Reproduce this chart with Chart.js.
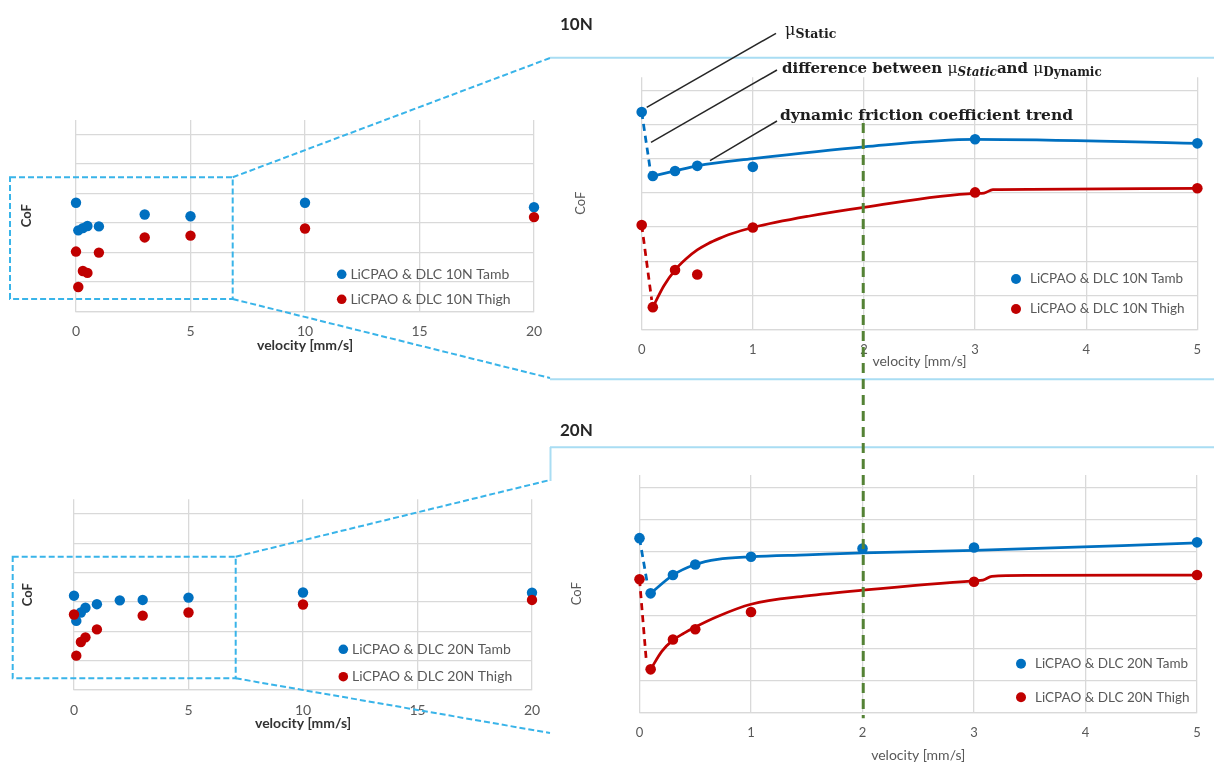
<!DOCTYPE html>
<html>
<head>
<meta charset="utf-8">
<script src="https://cdn.jsdelivr.net/npm/chart.js@4.4.1/dist/chart.umd.min.js"></script>
<style>
  html, body { margin: 0; padding: 0; background: #fff; }
  #stage { position: relative; width: 1214px; height: 764px; overflow: hidden; background: #fff; }
  #stage canvas { position: absolute; }
  #overlay { position: absolute; left: 0; top: 0; pointer-events: none; }
</style>
</head>
<body>
<div id="stage">
  <canvas id="all10" width="560" height="260" style="left:0;top:100px;"></canvas>
  <canvas id="all20" width="560" height="270" style="left:0;top:480px;"></canvas>
  <canvas id="low10" width="654" height="320" style="left:560px;top:60px;"></canvas>
  <canvas id="low20" width="654" height="314" style="left:560px;top:450px;"></canvas>

  <svg id="overlay" width="1214" height="764" xmlns="http://www.w3.org/2000/svg">
    <!-- zoom frames on the overview plots and their connectors -->
    <g fill="none" stroke="#39B4E9" stroke-width="2" stroke-dasharray="6 3">
      <rect x="10" y="177.3" width="222.7" height="121.7"/>
      <line x1="232.7" y1="177.3" x2="550" y2="58"/>
      <line x1="232.7" y1="299" x2="550" y2="378"/>
      <rect x="12.7" y="556.7" width="223" height="121.6"/>
      <line x1="235.7" y1="556.7" x2="550" y2="480"/>
      <line x1="235.7" y1="678.3" x2="550" y2="733"/>
    </g>
    <!-- panel rules of the low-velocity plots -->
    <g stroke="#A9DDF3" stroke-width="2">
      <line x1="550" y1="57.7" x2="1214" y2="57.7"/>
      <line x1="550" y1="379.3" x2="1214" y2="379.3"/>
      <line x1="550" y1="447.3" x2="1214" y2="447.3"/>
      <line x1="550.5" y1="447" x2="550.5" y2="481"/>
    </g>
    <!-- leader lines of the callouts -->
    <g stroke="#262626" stroke-width="1.5">
      <line x1="646.7" y1="107.3" x2="776" y2="33.3"/>
      <line x1="651" y1="142.3" x2="777" y2="70"/>
      <line x1="710" y1="160.7" x2="777" y2="121"/>
    </g>
    <text x="560" y="29.5" font-family="Lato, sans-serif" font-weight="bold" font-size="17" fill="#262626">10N</text>
    <text x="560" y="436" font-family="Lato, sans-serif" font-weight="bold" font-size="17" fill="#262626">20N</text>
    <g font-family="'DejaVu Serif', 'Liberation Serif', serif" fill="#1e1e1e">
      <text x="785" y="35" font-size="16">μ<tspan font-weight="bold" font-size="12.5" dy="3">Static</tspan></text>
      <text x="782" y="73" font-size="15" font-weight="bold">difference between <tspan font-weight="normal" font-size="15.5">μ</tspan><tspan font-size="12" font-style="italic" dy="3">Static</tspan><tspan dy="-3">and </tspan><tspan font-weight="normal" font-size="15.5">μ</tspan><tspan font-size="12" dy="3">Dynamic</tspan></text>
      <text x="780" y="120" font-size="15.5" font-weight="bold">dynamic friction coefficient trend</text>
    </g>
    <line id="vmark" stroke="#548235" stroke-width="3" stroke-dasharray="10 6"/>
  </svg>
</div>

<script>
// ---- measured coefficient of friction, LiCPAO grease on DLC ----
// 10 N load
const vel10Tamb  = [0, 0.1, 0.3, 0.5, 1, 3, 5, 10, 20];
const cof10Tamb  = [0.0738, 0.0550, 0.0565, 0.0580, 0.0577, 0.0658, 0.0646, 0.0738, 0.0707];
const vel10Thigh = [0, 0.1, 0.3, 0.5, 1, 3, 5, 10, 20];
const cof10Thigh = [0.0406, 0.0165, 0.0274, 0.0261, 0.0399, 0.0502, 0.0514, 0.0563, 0.0640];
// 20 N load
const vel20Tamb  = [0, 0.1, 0.3, 0.5, 1, 2, 3, 5, 10, 20];
const cof20Tamb  = [0.0643, 0.0471, 0.0528, 0.0561, 0.0585, 0.0611, 0.0614, 0.0630, 0.0665, 0.0663];
const vel20Thigh = [0, 0.1, 0.3, 0.5, 1, 3, 5, 10, 20];
const cof20Thigh = [0.0515, 0.0234, 0.0327, 0.0359, 0.0413, 0.0507, 0.0528, 0.0583, 0.0614];

// static-to-dynamic drop (dashed) and dynamic trend (solid) on the low-velocity plots
const drop10TambX  = [0, 0.08];  const drop10TambY  = [0.0738, 0.0562];
const drop10ThighX = [0, 0.09];  const drop10ThighY = [0.0406, 0.0186];
const drop20TambX  = [0, 0.07];  const drop20TambY  = [0.0643, 0.0502];
const drop20ThighX = [0, 0.06];  const drop20ThighY = [0.0515, 0.0265];

const trend10TambX  = [0.1, 0.3, 0.5, 1, 2, 3, 5];
const trend10TambY  = [0.0550, 0.0565, 0.0580, 0.0601, 0.0636, 0.0658, 0.0646];
const trend10ThighX = [0.1, 0.2, 0.3, 0.4, 0.5, 0.6, 0.7, 0.8, 1, 1.5, 2, 3, 3.08, 3.16, 3.5, 5];
const trend10ThighY = [0.0165, 0.0228, 0.0274, 0.0307, 0.0333, 0.0352, 0.0367, 0.0380, 0.0399,
                       0.0432, 0.0458, 0.0499, 0.0500, 0.0510, 0.0511, 0.0514];
const trend20TambX  = [0.1, 0.3, 0.5, 0.7, 1, 1.5, 2, 3, 5];
const trend20TambY  = [0.0471, 0.0528, 0.0561, 0.0577, 0.0585, 0.0591, 0.0597, 0.0605, 0.0628];
const trend20ThighX = [0.1, 0.2, 0.3, 0.4, 0.5, 0.7, 1, 1.5, 2, 3, 3.08, 3.16, 3.5, 5];
const trend20ThighY = [0.0234, 0.0290, 0.0325, 0.0347, 0.0366, 0.0399, 0.0437, 0.0463, 0.0481,
                       0.0510, 0.0512, 0.0524, 0.0527, 0.0528];

// axis ticks
const overviewTicks = [0, 5, 10, 15, 20];
const lowTicks = [0, 1, 2, 3, 4, 5];
const markVelocity = 2;

const BLUE = '#0070C0', RED = '#C00000', GRID = '#D9D9D9', TXT = '#595959';
const FONT = 'Lato, "Liberation Sans", Arial, sans-serif';

const pts = (xs, ys) => xs.map((x, i) => ({ x, y: ys[i] }));

function markers(label, xs, ys, color, r, order) {
  return { label, data: pts(xs, ys), backgroundColor: color, borderColor: color,
           pointRadius: r, pointBorderWidth: 0, showLine: false, clip: false,
           order, legendEntry: true };
}
function curve(xs, ys, color, dashed) {
  return { data: pts(xs, ys), borderColor: color, backgroundColor: color, showLine: true,
           pointRadius: 0, borderWidth: 2.75, borderDash: dashed ? [7, 5] : [],
           cubicInterpolationMode: dashed ? 'default' : 'monotone', tension: 0,
           borderCapStyle: 'butt', clip: false, order: 2 };
}

// legend drawn inside the plot area
const insetLegend = {
  id: 'insetLegend',
  afterDatasetsDraw(chart, args, o) {
    const ctx = chart.ctx;
    const items = chart.data.datasets.filter(d => d.legendEntry);
    ctx.save();
    ctx.font = o.font;
    ctx.textBaseline = 'middle';
    ctx.textAlign = 'left';
    items.forEach((d, i) => {
      const y = o.y + i * o.gap;
      ctx.beginPath();
      ctx.arc(o.x, y, o.r, 0, Math.PI * 2);
      ctx.fillStyle = d.backgroundColor;
      ctx.fill();
      ctx.fillStyle = TXT;
      ctx.fillText(d.label, o.x + o.textGap, y);
    });
    ctx.restore();
  }
};

function build(id, c) {
  return new Chart(document.getElementById(id), {
    type: 'scatter',
    data: { datasets: c.datasets },
    options: {
      responsive: false, animation: false, events: [],
      layout: { padding: c.pad },
      plugins: { legend: { display: false }, tooltip: { enabled: false }, insetLegend: c.legend },
      scales: {
        x: {
          type: 'linear', min: c.xTicks[0], max: c.xTicks[c.xTicks.length - 1],
          afterBuildTicks: s => { s.ticks = c.xTicks.map(v => ({ value: v })); },
          ticks: { padding: c.xTickPad, color: TXT, maxRotation: 0, autoSkip: false,
                   font: { family: FONT, size: c.tickSize } },
          grid: { color: GRID, lineWidth: 1.3, drawTicks: false },
          border: { color: GRID, width: 1.3 },
          title: { display: true, text: 'velocity [mm/s]', color: c.titleColor,
                   font: { family: FONT, size: 14, weight: c.titleWeight },
                   padding: { top: 0, bottom: c.xTitlePad } },
          afterFit: s => { s.height = c.xHeight; }
        },
        y: {
          type: 'linear', min: c.yMin, max: c.yMax,
          ticks: { display: false, stepSize: c.yStep, includeBounds: false },
          grid: { color: GRID, lineWidth: 1.3, drawTicks: false },
          border: { display: false },
          title: { display: true, text: 'CoF', color: c.titleColor,
                   font: { family: FONT, size: 13, weight: c.titleWeight },
                   padding: { top: c.yTitlePad, bottom: 0 } },
          afterFit: s => { s.width = c.yWidth; }
        }
      }
    },
    plugins: [insetLegend]
  });
}

// overview, 10 N
build('all10', {
  datasets: [
    markers('LiCPAO & DLC 10N Tamb', vel10Tamb, cof10Tamb, BLUE, 5.2, 1),
    markers('LiCPAO & DLC 10N Thigh', vel10Thigh, cof10Thigh, RED, 5.2, 0)
  ],
  pad: { left: 0, top: 20, right: 26, bottom: 0 },
  xTicks: overviewTicks, yMin: 0, yMax: 0.13, yStep: 0.02,
  yWidth: 76, xHeight: 48.7, xTickPad: 12, xTitlePad: 6.5, yTitlePad: 19,
  tickSize: 14, titleColor: '#333333', titleWeight: 'bold',
  legend: { x: 341.7, y: 174.3, gap: 25, r: 4.8, textGap: 8.7, font: '14px ' + FONT }
});

// overview, 20 N
build('all20', {
  datasets: [
    markers('LiCPAO & DLC 20N Tamb', vel20Tamb, cof20Tamb, BLUE, 5.2, 1),
    markers('LiCPAO & DLC 20N Thigh', vel20Thigh, cof20Thigh, RED, 5.2, 0)
  ],
  pad: { left: 0, top: 19.3, right: 28, bottom: 0 },
  xTicks: overviewTicks, yMin: 0, yMax: 0.13, yStep: 0.02,
  yWidth: 74, xHeight: 60, xTickPad: 11.6, xTitlePad: 18.6, yTitlePad: 20,
  tickSize: 14, titleColor: '#333333', titleWeight: 'bold',
  legend: { x: 343.3, y: 169.3, gap: 27.4, r: 4.8, textGap: 8.7, font: '14px ' + FONT }
});

// low velocities, 10 N
const low10 = build('low10', {
  datasets: [
    markers('LiCPAO & DLC 10N Tamb', vel10Tamb.slice(0, 7), cof10Tamb.slice(0, 7), BLUE, 5.3, 1),
    markers('LiCPAO & DLC 10N Thigh', vel10Thigh.slice(0, 7), cof10Thigh.slice(0, 7), RED, 5.3, 0),
    curve(drop10TambX, drop10TambY, BLUE, true),
    curve(drop10ThighX, drop10ThighY, RED, true),
    curve(trend10TambX, trend10TambY, BLUE, false),
    curve(trend10ThighX, trend10ThighY, RED, false)
  ],
  pad: { left: 0, top: 17.3, right: 15.7, bottom: 0 },
  xTicks: lowTicks, yMin: 0.01, yMax: 0.084, yStep: 0.01,
  yWidth: 81.7, xHeight: 50.7, xTickPad: 12.9, xTitlePad: 9.9, yTitlePad: 13.2,
  tickSize: 13, titleColor: TXT, titleWeight: 'normal',
  legend: { x: 456, y: 219, gap: 30, r: 5, textGap: 14, font: '13.5px ' + FONT }
});

// low velocities, 20 N
const low20 = build('low20', {
  datasets: [
    markers('LiCPAO & DLC 20N Tamb', vel20Tamb.slice(0, 8), cof20Tamb.slice(0, 8), BLUE, 5.3, 1),
    markers('LiCPAO & DLC 20N Thigh', vel20Thigh.slice(0, 7), cof20Thigh.slice(0, 7), RED, 5.3, 0),
    curve(drop20TambX, drop20TambY, BLUE, true),
    curve(drop20ThighX, drop20ThighY, RED, true),
    curve(trend20TambX, trend20TambY, BLUE, false),
    curve(trend20ThighX, trend20ThighY, RED, false)
  ],
  pad: { left: 0, top: 25, right: 11.3, bottom: 0 },
  xTicks: lowTicks, yMin: 0.01, yMax: 0.084, yStep: 0.01,
  yWidth: 79.5, xHeight: 51.7, xTickPad: 13.2, xTitlePad: 0, yTitlePad: 8.9,
  tickSize: 13, titleColor: TXT, titleWeight: 'normal',
  legend: { x: 461, y: 213.7, gap: 33.6, r: 5, textGap: 14, font: '13.5px ' + FONT }
});

// vertical marker at the reference velocity, spanning both low-velocity plots
(function () {
  const x = 560 + (low10.scales.x.getPixelForValue(markVelocity) + low20.scales.x.getPixelForValue(markVelocity)) / 2;
  const y2 = 450 + low20.chartArea.bottom + 6;
  const m = document.getElementById('vmark');
  m.setAttribute('x1', x); m.setAttribute('x2', x);
  m.setAttribute('y1', 123); m.setAttribute('y2', y2);
})();
</script>
</body>
</html>
